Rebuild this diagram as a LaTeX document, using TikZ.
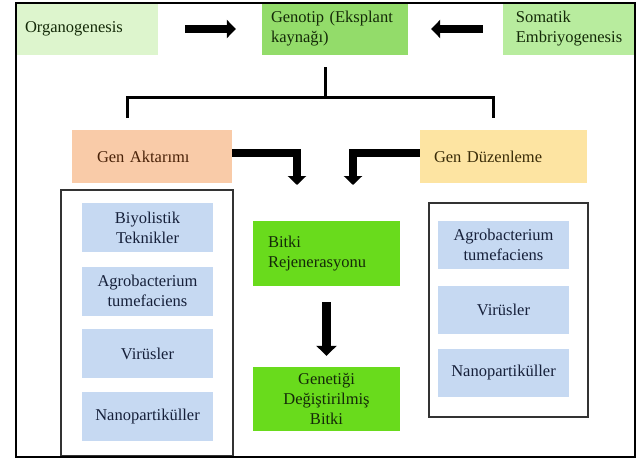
\documentclass[tikz,border=0pt]{standalone}
\usepackage{fontspec}
\setmainfont{Liberation Serif}
\usetikzlibrary{arrows.meta}
\definecolor{paleGreen}{HTML}{DDF5CD}
\definecolor{midGreen}{HTML}{93DC6A}
\definecolor{lightGreen}{HTML}{B8EC9E}
\definecolor{brightGreen}{HTML}{69DB1C}
\definecolor{peach}{HTML}{F9CBA8}
\definecolor{sand}{HTML}{FDE4A2}
\definecolor{boxBlue}{HTML}{C6D9F2}
\definecolor{textGreen}{HTML}{142A08}
\definecolor{textBrown}{HTML}{4A2208}
\definecolor{textOlive}{HTML}{3A2C08}
\definecolor{textBlue}{HTML}{16203A}
\definecolor{frameGray}{HTML}{333333}
\begin{document}
\begin{tikzpicture}[x=1pt, y=-1pt,
    base-box/.style={rectangle, inner sep=0pt, font=\fontsize{16.5}{20}\selectfont},
    top-box/.style={base-box, text=textGreen, minimum height=52pt, align=left},
    blue-box/.style={base-box, fill=boxBlue, text=textBlue, minimum width=131pt, align=center},
    green-box/.style={base-box, fill=brightGreen, text=textGreen, minimum width=147pt},
    block-arrow/.style={line width=7.5pt, line join=miter, -{Triangle[width=18pt,length=9pt]}},
    bracket-line/.style={line width=3pt},
    container/.style={draw=frameGray, line width=1.5pt}
  ]
    \useasboundingbox (0,0) rectangle (638,458);

    % Containers
    \draw[container] (61,190) rectangle (233,456);
    \draw[container] (429,203) rectangle (588,417);

    \node[top-box, fill=paleGreen, text width=124pt, inner xsep=9pt] (ORG) at (87,29) {Organogenesis};
    \node[top-box, fill=midGreen, text width=128pt, inner xsep=9pt] (GEN) at (335,29) {Genotip (Eksplant\\kaynağı)};
    \node[top-box, fill=lightGreen, minimum width=132pt] (SOM) at (569,29) {Somatik\\Embriyogenesis};

    \node[base-box, fill=peach, text=textBrown, minimum height=53pt, text width=110pt, inner xsep=25pt, align=left] (AKT) at (152,156.5) {Gen Aktarımı};
    \node[base-box, fill=sand, text=textOlive, minimum height=53pt, text width=139pt, inner xsep=14pt, align=left] (DUZ) at (503.5,156.5) {Gen Düzenleme};

    \node[blue-box, minimum height=49pt] (BIY) at (147.5,227.5) {Biyolistik\\Teknikler};
    \node[blue-box, minimum height=49pt] (AGR1) at (147.5,291) {Agrobacterium\\tumefaciens};
    \node[blue-box, minimum height=49pt] (VIR1) at (147.5,353.5) {Virüsler};
    \node[blue-box, minimum height=49pt] (NAN1) at (147.5,416.5) {Nanopartiküller};

    \node[blue-box, minimum height=48pt] (AGR2) at (503.5,244.5) {Agrobacterium\\tumefaciens};
    \node[blue-box, minimum height=48pt] (VIR2) at (503.5,310) {Virüsler};
    \node[blue-box, minimum height=48pt] (NAN2) at (503.5,373) {Nanopartiküller};

    \node[green-box, minimum height=65pt, text width=117pt, inner xsep=15pt, align=left] (REJ) at (326.5,253.5) {Bitki\\Rejenerasyonu};
    \node[green-box, minimum height=64pt, align=center] (GMO) at (326.5,399) {Genetiği\\Değiştirilmiş\\Bitki};

    \coordinate (BR-top) at (325,67);
    \coordinate (BR-left) at (127,118);
    \coordinate (BR-right) at (493,118);
    \coordinate (AKT-tip) at (297,185);
    \coordinate (DUZ-tip) at (353,185);

    % Arrows
    \draw[block-arrow, shorten <=27pt, shorten >=26pt] (ORG) -- (GEN);
    \draw[block-arrow, shorten <=20pt, shorten >=23pt] (SOM) -- (GEN);
    \draw[bracket-line] (BR-top) -- ++(0,30);
    \draw[bracket-line] (BR-left) -- ++(0,-21) -| (BR-right);
    \draw[block-arrow] ([yshift=3.5pt]AKT.east) -| (AKT-tip);
    \draw[block-arrow] ([yshift=3.5pt]DUZ.west) -| (DUZ-tip);
    \draw[block-arrow, line width=9pt, -{Triangle[width=20pt,length=10pt]}, shorten <=16pt, shorten >=11pt] (REJ) -- (GMO);

    % Frame
    \draw[line width=1.5pt] (16,3) rectangle (635,457);
\end{tikzpicture}
\end{document}
